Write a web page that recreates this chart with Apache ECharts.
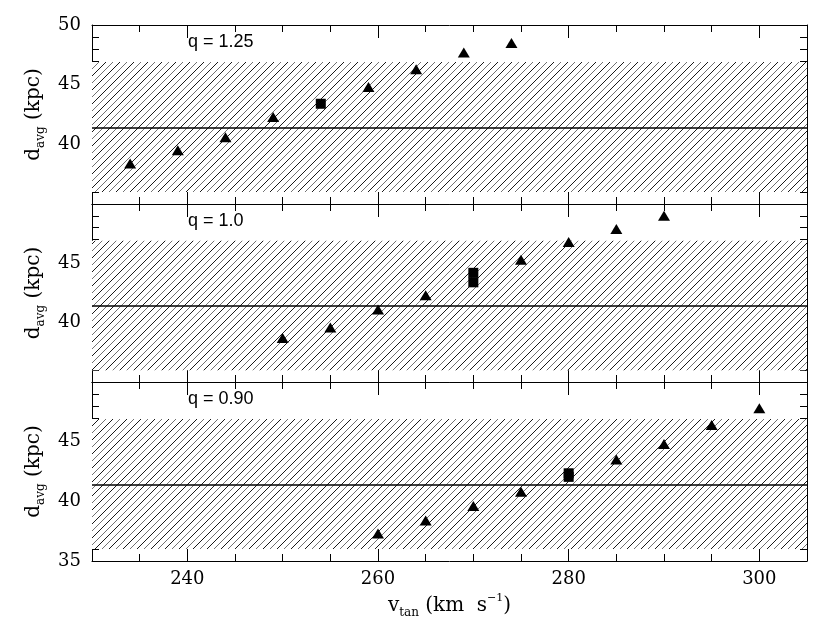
<!DOCTYPE html>
<html>
<head>
<meta charset="UTF-8">
<title>d_avg vs v_tan</title>
<style>
  html, body { margin: 0; padding: 0; background: #fff; }
  #chart { width: 830px; height: 626px; }
</style>
</head>
<body>
<div id="chart"></div>
<script src="https://cdn.jsdelivr.net/npm/echarts@6/dist/echarts.min.js"></script>
<script>
// panel labels, top to bottom
const panelLabels = ['q = 1.25', 'q = 1.0', 'q = 0.90'];

// triangles (v_tan, d_avg) per panel
const vTan125 = [234, 239, 244, 249, 259, 264, 269, 274];
const dAvg125 = [38.4, 39.5, 40.6, 42.3, 44.8, 46.3, 47.7, 48.5];
const vTan100 = [250, 255, 260, 265, 275, 280, 285, 290];
const dAvg100 = [38.7, 39.6, 41.1, 42.3, 45.3, 46.8, 47.9, 49.0];
const vTan090 = [260, 265, 270, 275, 285, 290, 295, 300];
const dAvg090 = [37.3, 38.4, 39.6, 40.8, 43.5, 44.8, 46.4, 47.8];

// squares
const sqV125 = [254];
const sqD125 = [43.4];
const sqV100 = [270, 270];
const sqD100 = [43.4, 44.2];
const sqV090 = [280, 280];
const sqD090 = [42.05, 42.35];

// observed distance and its range (hatched band)
const meanD = 41.4;
const bandLow = 36.0;
const bandHigh = 46.9;

// axes
const xMin = 230, xMax = 305;
const xMajor = [240, 260, 280, 300];
const yMin = 35, yMax = 50;

const tri = [[vTan125, dAvg125], [vTan100, dAvg100], [vTan090, dAvg090]];
const sq = [[sqV125, sqD125], [sqV100, sqD100], [sqV090, sqD090]];

function zip(a, b) { return a.map((v, i) => [v, b[i]]); }

// diagonal hatch tile, dark and light lines alternating
function hatch() {
  const p = 14;
  const c = document.createElement('canvas');
  c.width = p; c.height = p;
  const g = c.getContext('2d');
  g.fillStyle = '#fff';
  g.fillRect(0, 0, p, p);
  for (let k = 0; k <= 4; k++) {
    const off = k * 7;
    g.strokeStyle = k % 2 === 0 ? 'rgba(0,0,0,0.9)' : 'rgba(0,0,0,0.55)';
    g.lineWidth = 1;
    g.beginPath();
    g.moveTo(off - 20, 20);
    g.lineTo(off + 20, -20);
    g.stroke();
  }
  return c;
}
const hatchTile = hatch();

const serif = 'DejaVu Serif';
const gridTops = [25, 204, 382];
const gridHeights = [179, 178, 179];

const grids = [], xAxes = [], yAxes = [], series = [], texts = [];

for (let i = 0; i < 3; i++) {
  grids.push({ left: 92, right: 23, top: gridTops[i], height: gridHeights[i] });
  const isBottom = i === 2;
  ['bottom', 'top'].forEach(pos => {
    xAxes.push({
      gridIndex: i, type: 'value', position: pos, min: xMin, max: xMax, interval: 5,
      axisLine: { show: true, onZero: false, lineStyle: { color: '#000', width: 1 } },
      axisTick: { show: true, inside: true, length: 7, lineStyle: { color: '#000' } },
      axisLabel: { show: false },
      splitLine: { show: false }
    });
    xAxes.push({
      gridIndex: i, type: 'value', position: pos, min: xMin, max: xMax,
      axisLine: { show: false },
      axisTick: { show: true, inside: true, length: 13, customValues: xMajor, lineStyle: { color: '#000' } },
      axisLabel: {
        show: isBottom && pos === 'bottom', customValues: xMajor, margin: 9,
        color: '#000', fontFamily: serif, fontSize: 18
      },
      splitLine: { show: false },
      name: isBottom && pos === 'bottom' ? '{b|v}{s|tan} {b|(km  s}{p|−1}{b|)}' : '',
      nameLocation: 'middle', nameGap: 32,
      nameTextStyle: {
        color: '#000', fontFamily: serif, fontSize: 20,
        rich: {
          b: { fontFamily: serif, fontSize: 20, lineHeight: 26, color: '#000' },
          s: { fontFamily: serif, fontSize: 12, lineHeight: 12, verticalAlign: 'bottom', color: '#000' },
          p: { fontFamily: serif, fontSize: 11, lineHeight: 12, verticalAlign: 'top', color: '#000' }
        }
      }
    });
  });
  ['left', 'right'].forEach(pos => {
    yAxes.push({
      gridIndex: i, type: 'value', position: pos, min: yMin, max: yMax, interval: 5,
      axisLine: { show: true, onZero: false, lineStyle: { color: '#000', width: 1 } },
      axisTick: { show: true, inside: true, length: 13, lineStyle: { color: '#000' } },
      minorTick: { show: true, splitNumber: 5, length: 7, lineStyle: { color: '#000' } },
      axisLabel: {
        show: pos === 'left', margin: 11, color: '#000', fontFamily: serif, fontSize: 18,
        showMinLabel: i === 2, showMaxLabel: i === 0
      },
      splitLine: { show: false },
      name: pos === 'left' ? '{b|d}{s|avg} {b|(kpc)}' : '',
      nameLocation: 'middle', nameRotate: 90, nameGap: 44,
      nameTextStyle: {
        color: '#000', fontFamily: serif, fontSize: 20,
        rich: {
          b: { fontFamily: serif, fontSize: 20, lineHeight: 26, color: '#000' },
          s: { fontFamily: serif, fontSize: 12, lineHeight: 12, verticalAlign: 'bottom', color: '#000' }
        }
      }
    });
  });

  series.push({
    type: 'scatter', xAxisIndex: 4 * i, yAxisIndex: 2 * i,
    symbol: 'triangle', symbolSize: [12, 10],
    itemStyle: { color: '#000', opacity: 1 },
    data: zip(tri[i][0], tri[i][1]),
    markArea: {
      silent: true,
      itemStyle: { color: { image: hatchTile, repeat: 'repeat' } },
      data: [[{ yAxis: bandLow }, { yAxis: bandHigh }]]
    },
    markLine: {
      silent: true, symbol: ['none', 'none'],
      label: { show: false },
      lineStyle: { color: '#000', width: 1.5, type: 'solid' },
      data: [{ yAxis: meanD }]
    },
    z: 3
  });
  series.push({
    type: 'scatter', xAxisIndex: 4 * i, yAxisIndex: 2 * i,
    symbol: 'rect', symbolSize: 10,
    itemStyle: { color: '#000', opacity: 1 },
    data: zip(sq[i][0], sq[i][1]),
    z: 3
  });

  texts.push({
    type: 'text', left: 188, top: gridTops[i] + 8,
    style: { text: panelLabels[i], fill: '#000', font: '18px "Liberation Sans"' }
  });
}

const chart = echarts.init(document.getElementById('chart'));
chart.setOption({
  animation: false,
  backgroundColor: '#fff',
  grid: grids,
  xAxis: xAxes,
  yAxis: yAxes,
  series: series,
  graphic: texts
});
</script>
</body>
</html>
